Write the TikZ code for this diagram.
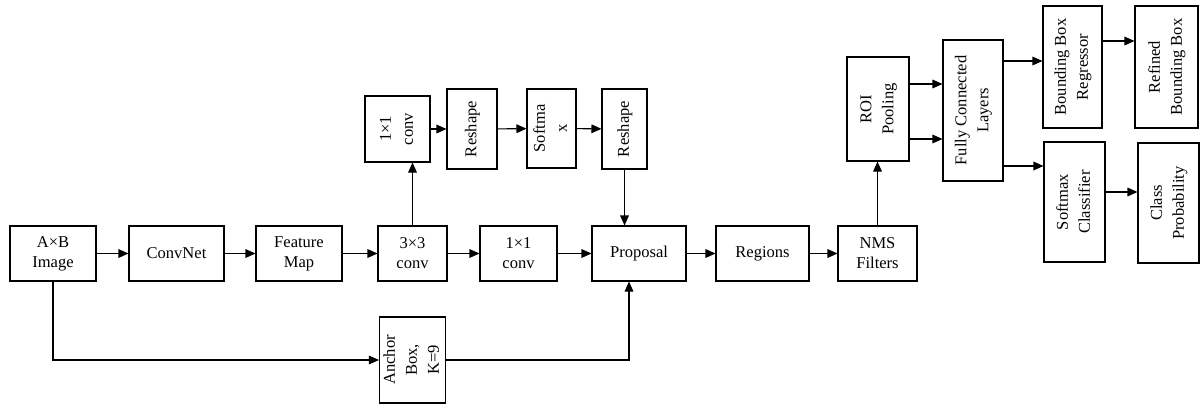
\documentclass[tikz,border=0pt]{standalone}
\usepackage{fontspec}
\setmainfont{Liberation Serif}
\usetikzlibrary{arrows.meta,calc}
\newcommand{\rtxt}[1]{\rotatebox{90}{\fontsize{12.4}{16.5}\selectfont\begin{tabular}{@{}c@{}}#1\end{tabular}}}
\begin{document}
\begin{tikzpicture}[x=0.75pt,y=-0.75pt,
  box/.style={draw,line width=0.8pt,inner sep=0pt,font=\fontsize{12.4}{15}\selectfont,align=center},
  arr/.style={line width=0.8pt,-{Triangle[length=7.5pt,width=6.5pt]}},
  ln/.style={line width=0.8pt}]
\useasboundingbox (0,0) rectangle (1201,407);
% main row
\node[box,minimum width=64.5pt,minimum height=41.25pt] (img) at (53,253.5) {A×B\\Image};
\node[box,minimum width=71.25pt,minimum height=41.25pt] (convnet) at (176.5,253.5) {ConvNet};
\node[box,minimum width=64.5pt,minimum height=41.25pt] (fmap) at (299,253.5) {Feature\\Map};
\node[box,minimum width=51.75pt,minimum height=41.25pt] (c33) at (412.5,253.5) {3×3\\conv};
\node[box,minimum width=57.75pt,minimum height=41.25pt] (c11) at (518.5,253.5) {1×1\\conv};
\node[box,minimum width=70.5pt,minimum height=41.25pt] (prop) at (639,253.5) {Proposal};
\node[box,minimum width=69.75pt,minimum height=41.25pt] (reg) at (762.5,253.5) {Regions};
\node[box,minimum width=59.25pt,minimum height=41.25pt] (nms) at (877.5,253.5) {NMS\\Filters};
% anchor
\node[box,minimum width=47.25pt,minimum height=64.5pt] (anchor) at (412.5,360) {\rtxt{Anchor\\Box,\\K=9}};
% top row
\node[box,minimum width=48.75pt,minimum height=49.5pt] (c11t) at (397.5,129) {\rtxt{1×1\\conv}};
\node[box,minimum width=37.5pt,minimum height=60pt] (resh1) at (472,129) {\rtxt{Reshape}};
\node[box,minimum width=36.75pt,minimum height=59.25pt] (soft) at (551.5,128.5) {\rtxt{Softma\\x}};
\node[box,minimum width=33.75pt,minimum height=60pt] (resh2) at (624.5,129) {\rtxt{Reshape}};
% right part
\node[box,minimum width=46.5pt,minimum height=78pt] (roi) at (878,109) {\rtxt{ROI\\Pooling}};
\node[box,minimum width=45pt,minimum height=105.75pt] (fc) at (973,110.5) {\rtxt{Fully Connected\\Layers}};
\node[box,minimum width=44.25pt,minimum height=91.5pt] (bbr) at (1072.5,67) {\rtxt{Bounding Box\\Regressor}};
\node[box,minimum width=47.25pt,minimum height=91.5pt] (refined) at (1166.5,67) {\rtxt{Refined\\Bounding Box}};
\node[box,minimum width=45.75pt,minimum height=90pt] (smc) at (1074.5,202) {\rtxt{Softmax\\Classifier}};
\node[box,minimum width=45.75pt,minimum height=90pt] (classp) at (1168.5,203) {\rtxt{Class\\Probability}};
% connectors main row
\draw[arr] (img) -- (convnet);
\draw[arr] (convnet) -- (fmap);
\draw[arr] (fmap) -- (c33);
\draw[arr] (c33) -- (c11);
\draw[arr] (c11) -- (prop);
\draw[arr] (prop) -- (reg);
\draw[arr] (reg) -- (nms);
% top branch
\draw[arr] (c33.north) -- (c33.north |- c11t.south);
\draw[arr] (c11t) -- (resh1);
\draw[arr] (resh1) -- (soft);
\draw[arr] (soft) -- (resh2);
\draw[arr] (resh2.south) -- (resh2.south |- prop.north);
% anchor branch
\draw[arr] (img.south) |- (anchor.west);
\coordinate (pin) at ($(prop.south)+(-10,0)$);
\draw[arr] (anchor.east) -| (pin);
% right part
\draw[arr] (nms.north) -- (nms.north |- roi.south);
\coordinate (r1) at ($(roi.east)+(0,-25)$);
\coordinate (r2) at ($(roi.east)+(0,30)$);
\draw[arr] (r1) -- (r1 -| fc.west);
\draw[arr] (r2) -- (r2 -| fc.west);
\coordinate (f1) at ($(fc.east)+(0,-49.5)$);
\coordinate (f2) at ($(fc.east)+(0,55.5)$);
\draw[arr] (f1) -- (f1 -| bbr.west);
\draw[arr] (f2) -- (f2 -| smc.west);
\coordinate (b1) at ($(bbr.east)+(0,-26)$);
\draw[arr] (b1) -- (b1 -| refined.west);
\coordinate (s1) at ($(smc.east)+(0,-10)$);
\draw[arr] (s1) -- (s1 -| classp.west);
\end{tikzpicture}
\end{document}
